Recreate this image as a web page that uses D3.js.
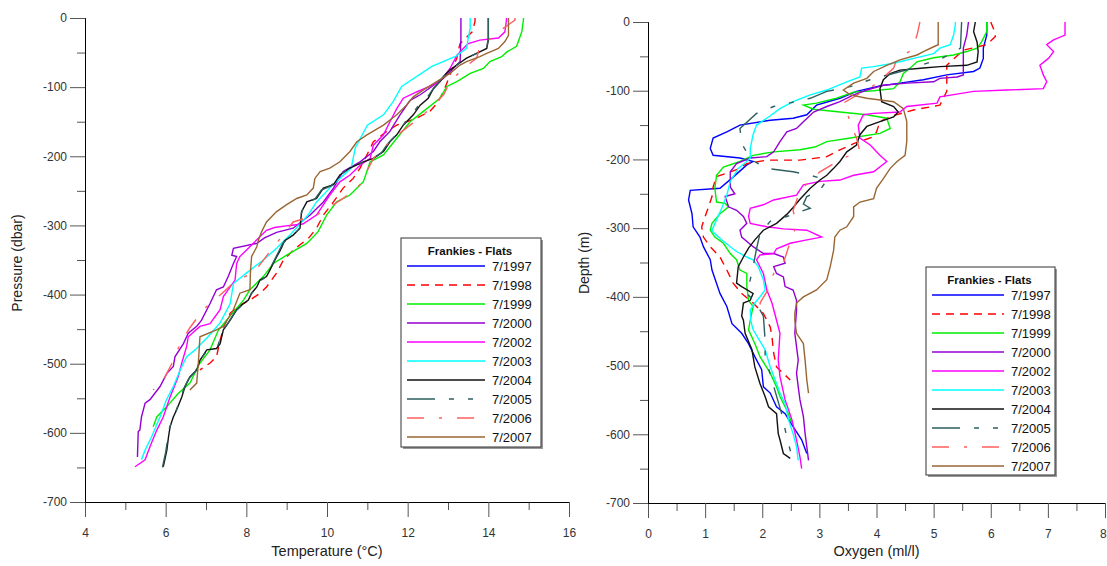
<!DOCTYPE html>
<html>
<head>
<meta charset="utf-8">
<script src="https://cdn.jsdelivr.net/npm/d3@7"></script>
<style>
  body { margin: 0; background: #fff; }
  svg { font-family: "Liberation Sans", Arial, sans-serif; }
  .tick text { fill: #333; font-size: 12px; }
  .tick line { stroke: #555; }
  .domain { stroke: #000; }
</style>
</head>
<body>
<svg id="chart" width="1107" height="566"></svg>
<script>
// years in the legend, in order
var years = ["7/1997", "7/1998", "7/1999", "7/2000", "7/2002", "7/2003", "7/2004", "7/2005", "7/2006", "7/2007"];
var legendTitle = "Frankies - Flats";

// temperature profiles [degC, pressure]  (no 1997 cast on the left panel)
var temp1998 = [[13.67,0],[13.67,-5],[13.6,-20],[13.3,-37],[13.25,-48],[13.22,-58],[13.05,-82],[12.9,-105],[12.75,-122],[12.55,-135],[12.22,-145],[11.73,-155],[11.48,-164],[11.15,-179],[10.99,-198],[10.82,-217],[10.65,-232],[10.4,-246],[10.16,-266],[9.91,-285],[9.74,-304],[9.55,-318],[9.33,-328],[9.16,-336],[8.92,-350],[8.75,-369],[8.5,-389],[8.34,-398],[8.09,-408],[7.85,-415],[7.6,-427],[7.45,-445],[7.35,-466],[7.26,-490],[7.1,-499],[6.85,-509]];
var temp1999 = [[14.87,0],[14.87,-3],[14.83,-20],[14.7,-41],[14.46,-49],[14.33,-56],[14.04,-63],[13.88,-73],[13.55,-80],[13.22,-92],[12.97,-99],[12.8,-116],[12.39,-135],[12.06,-150],[11.73,-174],[11.4,-198],[11.07,-208],[10.9,-237],[10.57,-256],[10.24,-266],[9.99,-285],[9.78,-309],[9.5,-326],[9.0,-343],[8.67,-355],[8.42,-374],[8.09,-393],[7.93,-408],[7.51,-437],[7.31,-451],[7.1,-480],[6.85,-499],[6.6,-528],[6.31,-543],[6.03,-562],[5.78,-577],[5.69,-591]];
var temp2000 = [[13.32,0],[13.32,-30],[13.3,-63],[13.1,-75],[12.89,-87],[12.6,-99],[12.31,-111],[12.06,-119],[11.81,-140],[11.56,-164],[11.31,-179],[11.15,-193],[10.82,-208],[10.4,-222],[10.16,-246],[9.91,-266],[9.58,-285],[9.16,-304],[8.75,-310],[8.45,-318],[8.26,-326],[7.68,-333],[7.64,-343],[7.76,-345],[7.68,-355],[7.55,-374],[7.43,-389],[7.26,-393],[7.1,-413],[6.89,-437],[6.77,-446],[6.56,-456],[6.44,-471],[6.23,-490],[6.19,-504],[6.03,-514],[5.86,-533],[5.61,-552],[5.49,-557],[5.4,-577],[5.36,-596],[5.32,-598],[5.3,-635]];
var temp2002 = [[14.45,0],[14.45,-3],[14.41,-20],[14.25,-29],[13.79,-32],[13.5,-37],[13.38,-44],[13.22,-54],[13.05,-73],[12.8,-92],[12.5,-100],[12.22,-107],[11.89,-116],[11.73,-131],[11.56,-150],[11.4,-169],[11.15,-184],[11.07,-203],[10.82,-213],[10.57,-227],[10.32,-237],[10.07,-256],[9.74,-285],[9.4,-298],[9.08,-300],[8.7,-303],[8.5,-307],[8.17,-326],[7.84,-345],[7.76,-355],[7.72,-379],[7.43,-403],[7.35,-422],[7.1,-442],[6.85,-446],[6.56,-461],[6.52,-475],[6.4,-499],[6.31,-519],[6.11,-548],[5.94,-577],[5.78,-596],[5.61,-620],[5.49,-639],[5.24,-649]];
var temp2003 = [[13.55,0],[13.55,-15],[13.5,-30],[13.46,-44],[13.2,-55],[12.6,-70],[11.85,-99],[11.64,-121],[11.4,-140],[11.0,-155],[10.7,-188],[10.6,-217],[10.15,-241],[9.74,-266],[9.53,-285],[9.08,-314],[8.75,-333],[8.42,-350],[8.0,-369],[7.68,-384],[7.6,-413],[7.35,-441],[7.05,-461],[6.73,-480],[6.52,-490],[6.36,-509],[6.19,-533],[6.02,-552],[5.86,-577],[5.65,-606],[5.49,-625],[5.4,-639]];
var temp2004 = [[14.0,0],[14.0,-32],[13.96,-44],[13.71,-51],[13.46,-58],[13.22,-68],[13.05,-75],[12.93,-82],[12.8,-92],[12.64,-102],[12.51,-116],[12.31,-126],[12.14,-140],[11.89,-155],[11.73,-169],[11.56,-179],[11.4,-193],[11.15,-203],[10.9,-208],[10.57,-217],[10.32,-227],[10.16,-241],[9.91,-246],[9.74,-261],[9.5,-266],[9.37,-280],[9.33,-304],[9.16,-314],[8.95,-322],[8.84,-336],[8.71,-350],[8.59,-364],[8.5,-374],[8.34,-379],[8.26,-389],[8.13,-398],[8.05,-408],[7.93,-413],[7.76,-422],[7.6,-437],[7.43,-451],[7.35,-471],[7.26,-478],[7.02,-480],[6.85,-495],[6.77,-509],[6.6,-519],[6.48,-533],[6.4,-548],[6.27,-567],[6.19,-577],[6.11,-591],[6.07,-606],[6.03,-625],[5.94,-649]];
var temp2005 = [[14.0,0],[14.0,-30],[13.95,-45],[13.68,-52],[13.4,-60],[13.2,-69],[13.0,-77],[12.88,-85],[12.75,-95],[12.6,-105],[12.45,-118],[12.25,-128],[12.08,-142],[11.85,-157],[11.68,-171],[11.5,-182],[11.35,-195],[11.1,-205],[10.85,-210],[10.52,-219],[10.28,-229],[10.1,-243],[9.86,-249],[9.7,-262],[9.45,-268],[9.35,-285],[9.3,-306],[9.1,-316],[8.9,-326],[8.8,-338],[8.68,-352],[8.55,-366],[8.45,-376],[8.3,-382],[8.2,-392],[8.1,-401],[8.0,-410],[7.88,-416],[7.72,-425],[7.56,-440],[7.4,-454],[7.3,-473],[7.0,-483],[6.82,-498],[6.74,-511],[6.57,-522],[6.45,-536],[6.37,-551],[6.25,-569],[6.17,-580],[6.09,-594],[6.05,-609],[6.0,-628],[5.92,-650]];
var temp2006 = [[14.66,0],[14.66,-3],[14.37,-15],[14.1,-28],[13.79,-41],[13.71,-58],[13.38,-73],[13.05,-92],[12.97,-102],[12.89,-111],[12.39,-140],[12.06,-155],[11.64,-174],[11.15,-203],[10.82,-241],[10.4,-261],[9.74,-285],[9.16,-295],[8.9,-315],[8.67,-331],[8.4,-352],[8.17,-369],[7.76,-379],[7.4,-398],[6.93,-422],[6.6,-448],[6.36,-471],[6.15,-500],[5.94,-524],[5.69,-538]];
var temp2007 = [[14.5,0],[14.5,-25],[14.41,-34],[14.25,-44],[13.96,-51],[13.79,-56],[13.46,-63],[13.3,-68],[13.05,-80],[12.72,-92],[12.39,-104],[12.14,-114],[11.97,-126],[11.73,-140],[11.4,-155],[10.99,-169],[10.74,-179],[10.57,-193],[10.32,-208],[10.07,-217],[9.83,-222],[9.7,-232],[9.66,-246],[9.5,-256],[9.25,-261],[9.0,-270],[8.75,-280],[8.5,-295],[8.38,-309],[8.3,-321],[8.26,-331],[8.13,-345],[8.1,-370],[8.09,-393],[7.84,-398],[7.68,-422],[7.43,-446],[7.26,-451],[6.85,-461],[6.81,-499],[6.77,-528],[6.6,-538]];

// oxygen profiles [ml/l, depth]
var oxy1997 = [[5.93,0],[5.93,-19],[5.87,-38],[5.87,-53],[5.81,-67],[5.7,-72],[5.23,-77],[4.82,-84],[4.41,-89],[4.06,-93],[3.65,-101],[3.36,-111],[2.95,-121],[2.78,-135],[2.54,-140],[2.14,-143],[1.61,-150],[1.38,-160],[1.14,-169],[1.09,-184],[1.14,-194],[1.61,-198],[1.84,-203],[1.73,-208],[1.5,-225],[1.26,-242],[0.74,-245],[0.71,-259],[0.77,-279],[0.79,-298],[0.91,-313],[0.97,-327],[1.09,-346],[1.12,-361],[1.26,-395],[1.38,-414],[1.47,-439],[1.64,-453],[1.76,-468],[1.87,-487],[1.99,-506],[2.02,-531],[2.14,-540],[2.25,-560],[2.4,-570],[2.54,-589],[2.69,-608],[2.78,-628]];
var oxy1998 = [[6.0,0],[6.05,-10],[6.08,-21],[5.93,-33],[5.52,-41],[5.23,-63],[5.23,-101],[5.11,-121],[4.65,-128],[4.3,-136],[4.06,-145],[4.0,-160],[3.95,-167],[3.6,-177],[3.36,-186],[3.13,-196],[2.66,-201],[2.08,-201],[1.73,-206],[1.55,-215],[1.38,-220],[1.2,-225],[1.14,-240],[1.12,-254],[1.06,-269],[1.0,-283],[0.94,-298],[0.97,-313],[1.09,-327],[1.26,-342],[1.38,-361],[1.49,-380],[1.64,-395],[1.84,-409],[2.02,-424],[2.14,-444],[2.17,-458],[2.2,-482],[2.25,-502],[2.49,-521]];
var oxy1999 = [[5.93,0],[5.93,-14],[5.84,-29],[5.76,-38],[5.58,-43],[5.35,-48],[5.0,-52],[4.71,-58],[4.59,-67],[4.47,-75],[4.41,-87],[4.3,-97],[3.95,-100],[3.6,-102],[3.3,-111],[2.95,-118],[2.72,-121],[2.9,-127],[3.36,-131],[3.83,-135],[4.18,-140],[4.24,-155],[4.06,-162],[3.6,-168],[3.13,-174],[2.92,-182],[2.66,-186],[2.2,-189],[1.84,-194],[1.61,-203],[1.32,-211],[1.2,-223],[1.17,-242],[1.2,-262],[1.35,-264],[1.41,-269],[1.26,-279],[1.12,-293],[1.09,-303],[1.17,-313],[1.32,-322],[1.44,-337],[1.55,-346],[1.61,-361],[1.73,-366],[1.73,-385],[1.76,-405],[1.84,-414],[1.79,-434],[1.76,-448],[1.87,-468],[1.96,-487],[2.14,-511],[2.25,-531],[2.31,-545],[2.43,-565],[2.52,-584]];
var oxy2000 = [[5.61,0],[5.58,-19],[5.52,-38],[5.52,-77],[5.41,-80],[5.11,-82],[5.0,-87],[4.53,-89],[4.12,-92],[3.83,-99],[3.6,-106],[3.36,-116],[3.13,-123],[2.9,-131],[2.72,-145],[2.6,-155],[2.43,-160],[2.31,-174],[2.2,-189],[2.08,-196],[1.79,-198],[1.55,-206],[1.44,-218],[1.44,-240],[1.52,-250],[1.35,-254],[1.41,-269],[1.55,-274],[1.67,-283],[1.73,-293],[1.61,-303],[1.64,-313],[1.84,-327],[2.02,-337],[2.2,-337],[2.37,-342],[2.4,-351],[2.2,-356],[2.25,-366],[2.37,-371],[2.4,-385],[2.54,-390],[2.6,-405],[2.6,-419],[2.57,-453],[2.63,-492],[2.6,-511],[2.63,-531],[2.66,-550],[2.72,-574],[2.75,-599],[2.78,-618],[2.81,-638]];
var oxy2002 = [[7.3,0],[7.3,-19],[7.1,-26],[6.98,-33],[7.1,-43],[7.01,-53],[6.86,-63],[6.92,-77],[6.98,-87],[6.92,-97],[6.28,-99],[5.7,-101],[5.11,-109],[5.06,-118],[4.53,-123],[4.41,-131],[3.95,-133],[3.77,-135],[3.68,-150],[3.71,-169],[3.89,-179],[4.06,-194],[4.18,-203],[3.95,-218],[3.6,-223],[3.36,-230],[3.01,-232],[2.72,-237],[2.6,-252],[2.2,-259],[2.02,-266],[1.79,-271],[1.76,-283],[1.79,-293],[2.08,-298],[2.37,-301],[2.78,-303],[3.04,-313],[2.78,-317],[2.49,-322],[2.25,-330],[2.2,-337],[1.96,-339],[1.9,-346],[2.02,-366],[2.08,-390],[2.17,-409],[2.25,-434],[2.31,-453],[2.28,-492],[2.31,-516],[2.4,-550],[2.52,-579],[2.6,-608],[2.66,-633],[2.69,-650]];
var oxy2003 = [[5.38,0],[5.38,-4],[5.35,-19],[5.29,-33],[5.11,-38],[5.0,-46],[4.65,-53],[4.3,-60],[3.95,-65],[3.74,-67],[3.71,-80],[3.48,-87],[3.13,-99],[2.84,-106],[2.54,-116],[2.31,-126],[2.08,-140],[1.9,-150],[1.84,-164],[1.79,-184],[1.79,-198],[1.73,-203],[1.58,-213],[1.44,-232],[1.38,-252],[1.29,-271],[1.2,-288],[1.12,-303],[1.17,-308],[1.29,-317],[1.44,-327],[1.55,-334],[1.73,-342],[1.84,-346],[1.93,-356],[2.02,-375],[2.05,-390],[1.96,-400],[1.87,-409],[1.79,-419],[1.8,-435],[1.84,-448],[2.05,-477],[2.14,-502],[2.25,-526],[2.31,-540],[2.4,-555],[2.46,-579],[2.54,-599],[2.6,-618],[2.63,-638]];
var oxy2004 = [[5.73,0],[5.7,-14],[5.76,-29],[5.78,-43],[5.76,-58],[5.58,-63],[5.11,-65],[4.82,-67],[4.41,-70],[4.24,-75],[4.12,-84],[4.06,-97],[4.09,-116],[4.3,-123],[4.38,-131],[4.3,-138],[4.06,-145],[3.83,-152],[3.71,-164],[3.65,-179],[3.48,-189],[3.36,-203],[3.25,-213],[3.13,-223],[3.01,-230],[2.84,-242],[2.66,-258],[2.54,-270],[2.43,-280],[2.25,-293],[2.02,-303],[1.87,-317],[1.76,-329],[1.67,-342],[1.58,-356],[1.55,-380],[1.64,-385],[1.84,-395],[1.79,-405],[1.67,-409],[1.64,-428],[1.67,-434],[1.7,-453],[1.82,-477],[1.87,-502],[1.96,-526],[2.05,-545],[2.11,-560],[2.25,-570],[2.28,-599],[2.31,-608],[2.37,-628],[2.49,-635]];
var oxy2005 = [[5.49,0],[5.47,-38],[5.17,-52],[4.6,-68],[3.89,-84],[3.54,-94],[3.13,-101],[2.84,-111],[2.2,-123],[1.9,-133],[1.61,-155],[1.64,-177],[1.8,-200],[2.08,-213],[2.54,-218],[2.84,-223],[3.13,-230],[3.01,-245],[2.78,-254],[2.72,-265],[2.84,-271],[2.66,-276],[2.43,-283],[2.14,-290],[1.96,-308],[1.9,-330],[1.84,-356],[1.79,-375],[1.73,-395],[1.9,-410],[2.02,-428],[2.05,-463],[2.05,-487],[2.2,-530],[2.34,-570],[2.43,-604],[2.52,-633]];
var oxy2006 = [[4.76,0],[4.71,-19],[4.62,-41],[4.36,-53],[4.3,-67],[4.0,-90],[3.42,-118],[3.54,-145],[3.65,-169],[3.71,-189],[3.42,-198],[3.25,-206],[3.01,-218],[2.66,-245],[2.6,-260],[2.54,-274],[2.6,-298],[2.54,-308],[2.45,-330],[2.37,-351],[2.2,-366],[2.1,-390],[1.96,-409],[2.02,-424]];
var oxy2007 = [[5.08,0],[5.08,-33],[5.0,-36],[4.82,-43],[4.71,-48],[4.41,-55],[4.18,-63],[3.95,-72],[3.83,-82],[3.6,-89],[3.42,-99],[3.54,-106],[3.83,-111],[4.3,-116],[4.47,-126],[4.53,-145],[4.53,-174],[4.5,-194],[4.36,-203],[4.24,-213],[4.12,-228],[4.0,-242],[3.95,-257],[3.71,-262],[3.6,-269],[3.6,-283],[3.48,-298],[3.36,-303],[3.27,-313],[3.25,-332],[3.19,-356],[3.13,-375],[2.95,-390],[2.72,-400],[2.6,-409],[2.57,-424],[2.57,-434],[2.6,-453],[2.72,-468],[2.75,-492],[2.78,-521],[2.81,-540]];

var tempData = [null, temp1998, temp1999, temp2000, temp2002, temp2003, temp2004, temp2005, temp2006, temp2007];
var oxyData = [oxy1997, oxy1998, oxy1999, oxy2000, oxy2002, oxy2003, oxy2004, oxy2005, oxy2006, oxy2007];

var colors = ["#0000ff", "#ff0000", "#00ee00", "#9400d3", "#ff00ff", "#00ffff", "#111111", "#2f5f5f", "#ff5f5f", "#996633"];
var dashes = [null, "8,6", null, null, null, null, null, "28,14,5,14,5,14", "17,15,3,15", null];

var svg = d3.select("#chart");

function panel(opt) {
  var x = d3.scaleLinear().domain(opt.xDomain).range(opt.xRange);
  var y = d3.scaleLinear().domain([-700, 0]).range(opt.yRange);

  // minor ticks first, then major ones with labels
  svg.append("g")
    .attr("transform", "translate(0," + opt.yRange[0] + ")")
    .call(d3.axisBottom(x).tickValues(opt.xMinor).tickSize(8).tickFormat(""));
  svg.append("g")
    .attr("transform", "translate(0," + opt.yRange[0] + ")")
    .call(d3.axisBottom(x).tickValues(opt.xMajor).tickSize(15).tickSizeOuter(0).tickPadding(11).tickFormat(d3.format("d")));

  svg.append("g")
    .attr("transform", "translate(" + opt.xRange[0] + ",0)")
    .call(d3.axisLeft(y).tickValues(d3.range(-650, 0, 100)).tickSize(8).tickFormat(""));
  svg.append("g")
    .attr("transform", "translate(" + opt.xRange[0] + ",0)")
    .call(d3.axisLeft(y).tickValues(d3.range(-700, 1, 100)).tickSize(15).tickSizeOuter(0).tickPadding(3).tickFormat(d3.format("d")));

  svg.selectAll(".tick text").text(function() { return this.textContent.replace("\u2212", "-"); });

  var line = d3.line()
    .x(function(d) { return x(d[0]); })
    .y(function(d) { return y(d[1]); });

  opt.data.forEach(function(s, i) {
    if (!s) return;
    svg.append("path")
      .datum(s)
      .attr("d", line)
      .attr("fill", "none")
      .attr("stroke", colors[i])
      .attr("stroke-width", 1.4)
      .attr("stroke-dasharray", dashes[i]);
  });

  // axis titles
  svg.append("text")
    .attr("x", d3.mean(opt.xRange)).attr("y", 556)
    .attr("text-anchor", "middle")
    .attr("font-size", 14.5).attr("fill", "#222")
    .text(opt.xTitle);
  svg.append("text")
    .attr("transform", "translate(" + opt.yTitleX + ",263) rotate(-90)")
    .attr("text-anchor", "middle")
    .attr("font-size", 14).attr("fill", "#222")
    .text(opt.yTitle);

  // legend
  var lg = svg.append("g").attr("transform", "translate(" + opt.legend[0] + "," + opt.legend[1] + ")");
  lg.append("rect").attr("x", 2).attr("y", 2).attr("width", opt.legend[2]).attr("height", opt.legend[3]).attr("fill", "#999");
  lg.append("rect").attr("width", opt.legend[2]).attr("height", opt.legend[3])
    .attr("fill", "#fff").attr("stroke", "#333").attr("stroke-width", 1);
  lg.append("text")
    .attr("x", opt.legend[2] / 2 - 1).attr("y", 17)
    .attr("text-anchor", "middle").attr("font-size", 11.5).attr("font-weight", "bold").attr("fill", "#111")
    .text(legendTitle);
  years.forEach(function(yr, i) {
    var ry = 28 + i * 19;
    lg.append("line")
      .attr("x1", 6).attr("x2", opt.legend[4]).attr("y1", ry).attr("y2", ry)
      .attr("stroke", colors[i]).attr("stroke-width", 1.4)
      .attr("stroke-dasharray", dashes[i]);
    lg.append("text")
      .attr("x", opt.legend[4] + 7).attr("y", ry).attr("dy", "0.36em")
      .attr("font-size", 13).attr("fill", "#111")
      .text(yr);
  });
}

panel({
  xDomain: [4, 16], xRange: [85, 569], yRange: [502, 18],
  xMajor: d3.range(4, 17, 2), xMinor: d3.range(5, 16, 2),
  data: tempData,
  xTitle: "Temperature (\u00B0C)", yTitle: "Pressure (dbar)", yTitleX: 22,
  legend: [401, 238, 140, 209, 84]
});

panel({
  xDomain: [0, 8], xRange: [648, 1105], yRange: [503, 22],
  xMajor: d3.range(0, 9, 1), xMinor: d3.range(0.5, 8, 1),
  data: oxyData,
  xTitle: "Oxygen (ml/l)", yTitle: "Depth (m)", yTitleX: 589,
  legend: [926, 267, 129, 208, 78]
});

// the last oxygen label sits on the window edge; keep it inside
svg.selectAll(".tick text").filter(function() { return this.textContent === "8"; })
  .filter(function() { return this.parentNode.getAttribute("transform").indexOf("1105") >= 0; })
  .attr("text-anchor", "end").attr("dx", "0.1em");
</script>
</body>
</html>
